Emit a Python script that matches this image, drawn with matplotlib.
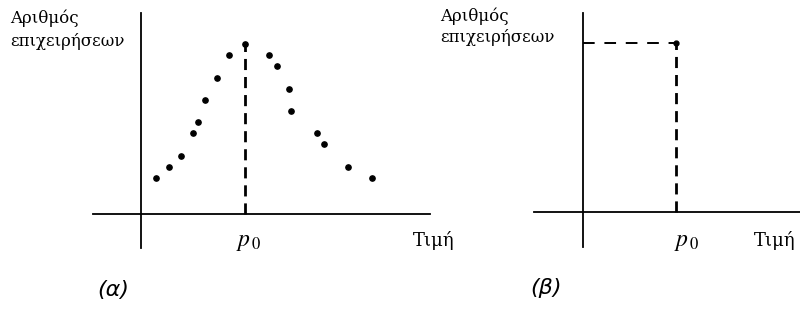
import matplotlib
matplotlib.use("Agg")
import matplotlib.pyplot as plt

plt.rcParams['mathtext.fontset'] = 'stix'

# (α) κατανομή πλήθους επιχειρήσεων ανά τιμή
tim_a = [1.5, 2.8, 4.0, 5.2, 5.7, 6.4, 7.6, 8.8, 10.4,
         12.8, 13.6, 14.8, 15.0, 17.6, 18.3, 20.7, 23.1]
plithos_a = [3.6, 4.7, 5.8, 8.1, 9.2, 11.4, 13.6, 15.9, 17.0,
             15.9, 14.8, 12.5, 10.3, 8.1, 7.0, 4.7, 3.6]
p0_a = 10.4

# (β) όλες οι επιχειρήσεις στην ίδια τιμή
p0_b = 9.3
plithos_b = 16.9

ylabel = ["Αριθμός", "επιχειρήσεων"]
xlabel = "Τιμή"

serif = ['DejaVu Serif']
W, H = 800, 310

fig = plt.figure(figsize=(8, 3.1), dpi=100)


def make_axes(left, top, right, bottom, xlim, ylim):
    ax = fig.add_axes([left / W, 1 - bottom / H, (right - left) / W, (bottom - top) / H])
    ax.set_xlim(xlim)
    ax.set_ylim(ylim)
    for s in ['top', 'right']:
        ax.spines[s].set_visible(False)
    ax.spines['left'].set_position(('data', 0))
    ax.spines['bottom'].set_position(('data', 0))
    ax.spines['left'].set_linewidth(1.3)
    ax.spines['bottom'].set_linewidth(1.3)
    ax.set_xticks([])
    ax.set_yticks([])
    ax.patch.set_alpha(0)
    return ax


# αριστερό διάγραμμα
ax1 = make_axes(93, 13, 430, 248, (-4.8, 28.9), (-3.4, 20.1))
ax1.plot(tim_a, plithos_a, 'o', color='black', markersize=3.8, linestyle='none')
ax1.plot([p0_a, p0_a], [0, max(plithos_a)], color='black', lw=2,
         dashes=(4, 2.5))

# δεξί διάγραμμα
ax2 = make_axes(534, 13, 800, 247, (-4.9, 21.7), (-3.5, 19.9))
ax2.plot([0, p0_b], [plithos_b, plithos_b], color='black', lw=1.4,
         dashes=(6, 5))
ax2.plot([p0_b, p0_b], [0, plithos_b], color='black', lw=2, dashes=(4, 2.5))
ax2.plot([p0_b], [plithos_b], 'o', color='black', markersize=3.5)

# κείμενα
fs = 12
fig.text(10 / W, 1 - 18 / H, ylabel[0], family=serif, fontsize=fs, va='center')
fig.text(10 / W, 1 - 42 / H, ylabel[1], family=serif, fontsize=fs, va='center')
fig.text(440 / W, 1 - 16 / H, ylabel[0], family=serif, fontsize=fs, va='center')
fig.text(440 / W, 1 - 37 / H, ylabel[1], family=serif, fontsize=fs, va='center')

fig.text(413 / W, 1 - 240 / H, xlabel, family=serif, fontsize=13, va='center')
fig.text(754 / W, 1 - 240 / H, xlabel, family=serif, fontsize=13, va='center')

fig.text(236 / W, 1 - 241 / H, r'$p_{\,0}$', fontsize=17, va='center')
fig.text(674 / W, 1 - 241 / H, r'$p_{\,0}$', fontsize=17, va='center')

fig.text(97 / W, 1 - 290 / H, '(α)', fontsize=16, style='italic', va='center')
fig.text(530 / W, 1 - 288 / H, '(β)', fontsize=16, style='italic', va='center')

fig.savefig('out.png', dpi=100)
